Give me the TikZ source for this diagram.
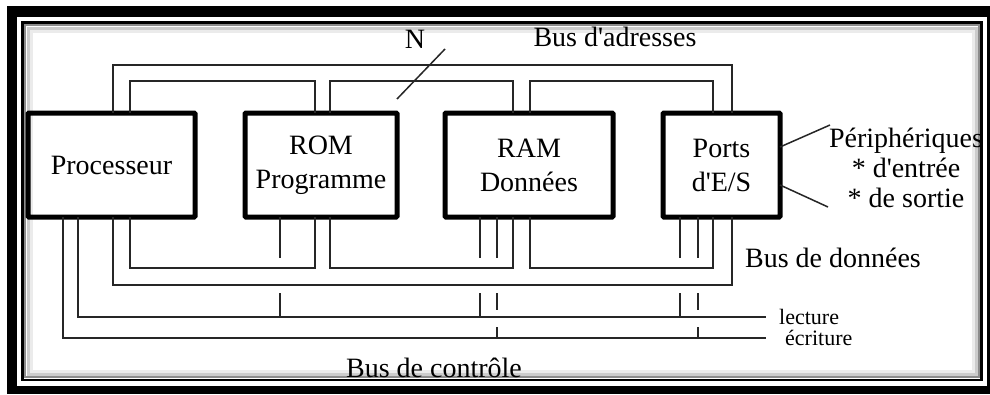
\documentclass[tikz,border=0pt]{standalone}
\usepackage{fontspec}
\setmainfont{Liberation Serif}
\begin{document}
\begin{tikzpicture} [x = 1pt, y = -1pt,
	box/.style = {draw, line width = 5pt, rounded corners = 1pt, minimum height = 104pt, outer sep = 0pt, align = center, font = \fontsize{28}{34}\selectfont},
	bus/.style = {line width = 1.5pt, black!85},
	lbl/.style = {font = \fontsize{28}{30}\selectfont, inner sep = 0pt},
	sig/.style = {font = \fontsize{22}{24}\selectfont, inner ysep = 0pt, anchor = west}]
	\useasboundingbox (0,0) rectangle (990,394);
	% frame
	\fill [black] (7,6) rectangle (990,394);
	\fill [white] (17,17) rectangle (987,386);
	\draw [black!8, line width = 3pt] (31,31) rectangle (973,371);
	\draw [black!20, line width = 3pt] (28,28) rectangle (976,374);
	\draw [black!45, line width = 2pt] (25,25) rectangle (979,377);
	\draw [black, line width = 2.5pt] (22.5,22.5) rectangle (981.5,380);
	% blocks
	\node (proc) [box, minimum width = 167pt] at (111.5,165) {Processeur};
	\node (rom) [box, minimum width = 152pt] at (321,165) {ROM\\Programme};
	\node (ram) [box, minimum width = 168pt] at (529,165) {RAM\\Données};
	\node (ports) [box, minimum width = 117pt] at (721.5,165) {Ports\\d\textquotesingle E/S};
	% bus d'adresses
	\draw [bus] ([xshift = 85]proc.north west) -- ++(0,-48) -| ([xshift = 69]ports.north west);
	\draw [bus] ([xshift = 102]proc.north west) -- ++(0,-32) -| ([xshift = 70]rom.north west);
	\draw [bus] ([xshift = 85]rom.north west) -- ++(0,-32) -| ([xshift = 68]ram.north west);
	\draw [bus] ([xshift = 85]ram.north west) -- ++(0,-32) -| ([xshift = 50]ports.north west);
	\draw [bus] (397,99) -- (445,49);
	\node (n) [lbl] at (415,39) {N};
	\node (adr) [lbl] at (615,37) {Bus d\textquotesingle adresses};
	% bus de donnees
	\draw [bus] ([xshift = 85]proc.south west) -- ++(0,68) -| ([xshift = 69]ports.south west);
	\draw [bus] ([xshift = 102]proc.south west) -- ++(0,51) -| ([xshift = 70]rom.south west);
	\draw [bus] ([xshift = 85]rom.south west) -- ++(0,51) -| ([xshift = 68]ram.south west);
	\draw [bus] ([xshift = 85]ram.south west) -- ++(0,51) -| ([xshift = 50]ports.south west);
	\node (don) [lbl] at (833,258) {Bus de données};
	% bus de controle
	\node (lect) [sig, inner xsep = 13pt] at (766,317) {lecture};
	\node (ecri) [sig, inner xsep = 19pt] at (766,338) {écriture};
	\draw [bus] ([xshift = 50]proc.south west) |- (lect.west);
	\draw [bus] ([xshift = 35]proc.south west) |- (ecri.west);
	\foreach \blk/\dx in {rom/35, ram/35, ports/17} {
		\draw [bus] ([xshift = \dx]\blk.south west) -- ++(0,41);
		\draw [bus] ([xshift = \dx]\blk.south west) ++(0,76) -- ++(0,24);
	}
	\foreach \blk/\dx in {ram/52, ports/35} {
		\draw [bus] ([xshift = \dx]\blk.south west) -- ++(0,41);
		\draw [bus] ([xshift = \dx]\blk.south west) ++(0,76) -- ++(0,17);
		\draw [bus] ([xshift = \dx]\blk.south west) ++(0,110) -- ++(0,11);
	}
	\node (ctl) [lbl, anchor = base] at (434,377) {Bus de contrôle};
	% peripheriques
	\node (periph) [lbl, align = center] at (906,168) {Périphériques\\* d\textquotesingle entrée\\* de sortie};
	\draw [bus] ([yshift = 18]ports.east) -- ++(50,-22);
	\draw [bus] ([yshift = -20]ports.east) -- ++(48,22);
\end{tikzpicture}
\end{document}
